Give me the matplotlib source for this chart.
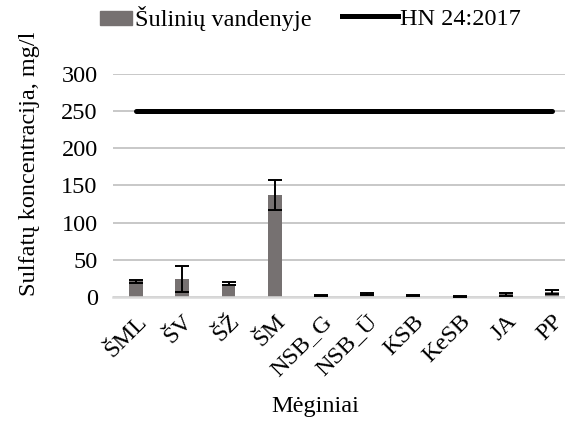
import matplotlib.pyplot as plt
from matplotlib.lines import Line2D
from matplotlib.patches import Patch

plt.rcParams['font.family'] = ['Liberation Serif', 'DejaVu Serif']

samples = ['ŠML', 'ŠV', 'ŠŽ', 'ŠM', 'NSB_G', 'NSB_Ū', 'KSB', 'KeSB', 'JA', 'PP']
sulfates = [21, 24, 18, 137, 2, 4, 1.5, 1, 3.5, 7]
sulfates_err = [2, 17, 1.5, 20.5, 1, 1.5, 0.8, 0.5, 1.5, 2.5]
hn_limit = [250] * len(samples)

fs = 17.5
bar_col = '#767171'

fig = plt.figure(figsize=(5.65, 4.21), dpi=100)
# plot area runs a bit past the right edge, like the original
ax = fig.add_axes([0.2, 0.2945, 0.818, 0.5305])

x = range(len(samples))
ax.bar(x, sulfates, width=0.30, color=bar_col, zorder=2)
ax.errorbar(x, sulfates, yerr=sulfates_err, fmt='none', ecolor='black',
            elinewidth=1.4, capsize=4.7, capthick=1.4, zorder=3)
ax.plot(x, hn_limit, color='black', linewidth=3.6, solid_capstyle='round', zorder=4)

ax.set_xlim(-0.5, len(samples) - 0.5)
ax.set_ylim(0, 300)
ax.set_yticks(range(0, 301, 50))
ax.set_xticks(list(x))
ax.set_xticklabels(samples, rotation=45, ha='right', rotation_mode='anchor')
ax.tick_params(axis='both', length=0, labelsize=fs)
ax.tick_params(axis='x', pad=10)
ax.tick_params(axis='y', pad=11)
ax.grid(axis='y', color='#bfbfbf', linewidth=1.2, zorder=0)
ax.set_axisbelow(True)
for s in ['top', 'right', 'left']:
    ax.spines[s].set_visible(False)
ax.spines['bottom'].set_color('#d9d9d9')
ax.spines['bottom'].set_linewidth(1.8)

ax.set_ylabel('Sulfatų koncentracija, mg/l', fontsize=fs)
ax.yaxis.set_label_coords(-0.158, 0.595)
ax.set_xlabel('Mėginiai', fontsize=fs)
ax.xaxis.set_label_coords(0.437, -0.445)

fig.legend([Patch(color=bar_col)], ['Šulinių vandenyje'], loc='center left',
           bbox_to_anchor=(100 / 565, 0.955), frameon=False, fontsize=fs,
           handlelength=1.3, handleheight=0.5, handletextpad=0.12,
           borderpad=0, borderaxespad=0)
fig.legend([Line2D([0], [0], color='black', linewidth=3.6)], ['HN 24:2017'],
           loc='center left', bbox_to_anchor=(342 / 565, 0.955), frameon=False,
           fontsize=fs, handlelength=2.3, handletextpad=0.1,
           borderpad=0, borderaxespad=0)

fig.savefig('out.png', dpi=100)
